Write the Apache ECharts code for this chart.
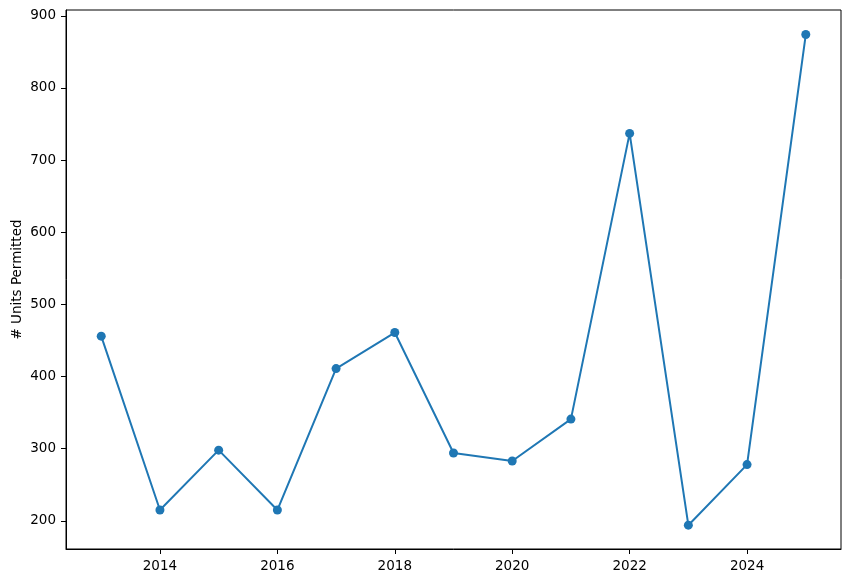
<!DOCTYPE html>
<html>
<head>
<meta charset="utf-8">
<script src="https://cdn.jsdelivr.net/npm/echarts@6/dist/echarts.min.js"></script>
<style>
  html, body { margin: 0; padding: 0; background: #fff; }
  #chart { width: 850px; height: 583px; }
</style>
</head>
<body>
<div id="chart"></div>
<script>
// yearly permitted units
const years = [2013, 2014, 2015, 2016, 2017, 2018, 2019, 2020, 2021, 2022, 2023, 2024, 2025];
const units = [456, 215, 298, 215, 411, 461, 294, 283, 341, 737, 194, 278, 874];
const xTicks = [2014, 2016, 2018, 2020, 2022, 2024];
const yTicks = [200, 300, 400, 500, 600, 700, 800, 900];

const chart = echarts.init(document.getElementById('chart'));
const font = 'DejaVu Sans';

chart.setOption({
  animation: false,
  grid: { left: 66, right: 9, top: 10, bottom: 34, show: true, borderColor: '#000', borderWidth: 1,
    outerBoundsMode: 'none' },
  xAxis: {
    type: 'value',
    min: 2012.4,
    max: 2025.6,
    splitLine: { show: false },
    axisLine: { show: true, lineStyle: { color: '#000', width: 1 } },
    axisTick: { show: true, customValues: xTicks, length: 5, lineStyle: { color: '#000' } },
    axisLabel: { customValues: xTicks, color: '#000', fontFamily: font, fontSize: 13.5, margin: 10,
      formatter: v => String(v) }
  },
  yAxis: {
    type: 'value',
    min: 161,
    max: 908,
    name: '# Units Permitted',
    nameLocation: 'middle',
    nameGap: 42,
    nameMoveOverlap: false,
    nameTextStyle: { color: '#000', fontFamily: font, fontSize: 13.5 },
    splitLine: { show: false },
    axisLine: { show: true, lineStyle: { color: '#000', width: 1 } },
    axisTick: { show: true, customValues: yTicks, length: 5, lineStyle: { color: '#000' } },
    axisLabel: { customValues: yTicks, color: '#000', fontFamily: font, fontSize: 13.5, margin: 10,
      formatter: v => String(v) }
  },
  series: [{
    type: 'line',
    data: years.map((y, i) => [y, units[i]]),
    symbol: 'circle',
    symbolSize: 9,
    itemStyle: { color: '#1f77b4' },
    lineStyle: { color: '#1f77b4', width: 2 }
  }]
});
</script>
</body>
</html>
